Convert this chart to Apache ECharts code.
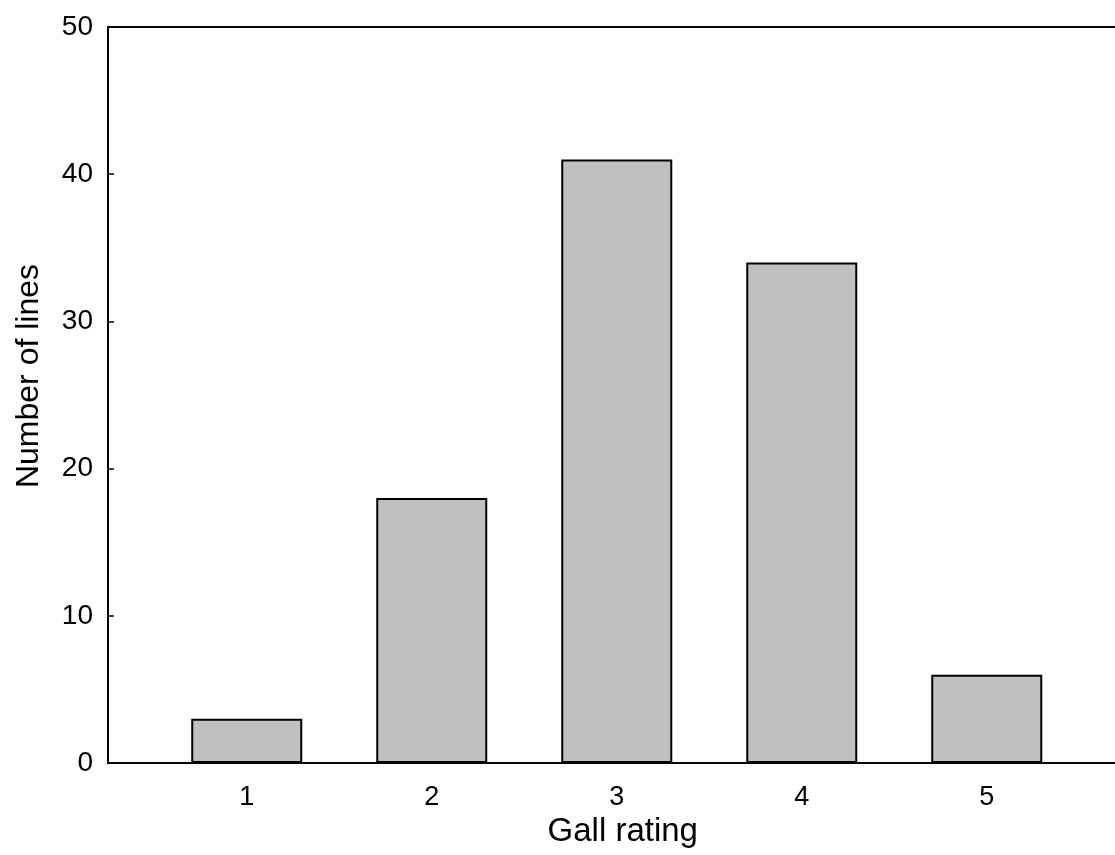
<!DOCTYPE html>
<html>
<head>
<meta charset="utf-8">
<script src="https://cdn.jsdelivr.net/npm/echarts@6/dist/echarts.min.js"></script>
<style>
  html, body { margin: 0; padding: 0; background: #fff; }
  #chart { width: 1115px; height: 855px; }
</style>
</head>
<body>
<div id="chart"></div>
<script>
// gall rating categories and number of lines per rating
const ratings = [1, 2, 3, 4, 5];
const lineCounts = [3, 18, 41, 34, 6];
const yTicks = [0, 10, 20, 30, 40, 50];

const font = '"Liberation Sans", Arial, sans-serif';

const chart = echarts.init(document.getElementById('chart'));

chart.setOption({
  animation: false,
  backgroundColor: '#fff',
  grid: {
    left: 108,
    right: -10.5,
    top: 27,
    bottom: 92,
    outerBoundsMode: 'none',
    show: true,
    borderColor: '#000',
    borderWidth: 2
  },
  xAxis: {
    type: 'value',
    min: 0.25,
    max: 5.75,
    name: 'Gall rating',
    nameLocation: 'middle',
    nameGap: 47,
    nameTextStyle: { color: '#000', fontSize: 33, fontFamily: font, padding: [0, 0, 0, 12] },
    axisLine: { show: true, lineStyle: { color: '#000', width: 2 } },
    axisTick: { show: false },
    splitLine: { show: false },
    axisLabel: {
      customValues: ratings,
      color: '#000',
      fontSize: 27,
      fontFamily: font,
      margin: 21
    }
  },
  yAxis: {
    type: 'value',
    min: 0,
    max: 50,
    interval: 10,
    name: 'Number of lines',
    nameLocation: 'middle',
    nameGap: 63,
    nameTextStyle: { color: '#000', fontSize: 32, fontFamily: font, padding: [0, 0, 0, 38] },
    axisLine: { show: true, lineStyle: { color: '#000', width: 2 } },
    axisTick: { show: true, inside: true, length: 6, lineStyle: { color: '#000', width: 1.5 } },
    splitLine: { show: false },
    axisLabel: {
      customValues: yTicks,
      color: '#000',
      fontSize: 28,
      fontFamily: font,
      margin: 15
    }
  },
  series: [{
    type: 'bar',
    barWidth: 111,
    data: ratings.map((r, i) => [r, lineCounts[i]]),
    itemStyle: { color: '#c0c0c0', borderColor: '#000', borderWidth: 2 }
  }]
});
</script>
</body>
</html>
